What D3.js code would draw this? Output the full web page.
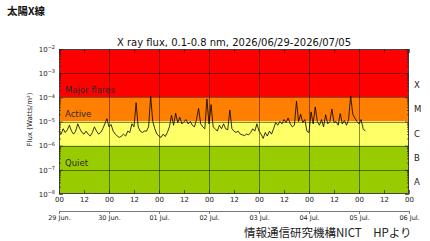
<!DOCTYPE html>
<html>
<head>
<meta charset="utf-8">
<script src="https://cdn.jsdelivr.net/npm/d3@7"></script>
<style>
  body { margin: 0; background: #fff; }
  svg { display: block; }
</style>
</head>
<body>
<div id="chart"></div>
<script>
// hourly X-ray flux (units of 1e-6 W/m2), starting 2026-06-29 00:00 UTC
const fluxE6 = [
  4, 3, 5, 3.5, 4.5, 7, 4, 3, 4, 8, 5, 3.5, 3, 4, 3, 2.5, 3.5, 6, 4, 3, 3.5, 5, 8, 13,
  6, 7.5, 4, 3, 2.5, 2.2, 2.5, 3, 2.5, 4, 3.5, 8, 6, 60, 6, 4, 3.5, 4, 4, 6, 110, 10, 5, 3,
  2.5, 2.2, 3, 2.4, 3.5, 6, 18, 7, 22, 9, 15, 8, 10, 12, 8, 10, 7, 6, 12, 35, 8, 6, 5, 86,
  8, 50, 6, 5, 4, 7, 5, 8, 5, 4.5, 30, 5, 4, 3.5, 4, 3, 2.8, 2.6, 3, 2.8, 3.5, 5, 4, 8,
  4, 3, 2, 3.5, 2.5, 4, 3, 5, 9, 7, 10, 8, 12, 9, 14, 8, 6, 7, 70, 10, 20, 9, 12, 4,
  3.5, 25, 8, 40, 10, 7, 12, 6, 19, 8, 10, 33, 9, 10, 7, 21, 8, 11, 7, 12, 115, 20, 14, 10,
  8, 12, 5, 4
];
const startDate = new Date(Date.UTC(2026, 5, 29));
const endDate = new Date(Date.UTC(2026, 6, 6));

const decades = [1e-2, 1e-3, 1e-4, 1e-5, 1e-6, 1e-7, 1e-8];
const bandTops = [1e-2, 1e-4, 1e-5, 1e-6];
const bandBottoms = [1e-4, 1e-5, 1e-6, 1e-8];
const bandColors = ['#ff0000', '#ff8000', '#ffff66', '#99cc00'];
const bandNames = ['Major flares', 'Active', 'Quiet'];
const bandNameLevels = [2e-4, 2e-5, 2e-7];
const classLetters = ['X', 'M', 'C', 'B', 'A'];
const classLower = [1e-4, 1e-5, 1e-6, 1e-7, 1e-8];

const width = 430, height = 241;
const plotL = 59, plotR = 409, plotT = 49, plotB = 194;
const font = '"DejaVu Sans", sans-serif';
const cjk = '"Noto Sans CJK JP", sans-serif';

const svg = d3.select('#chart').append('svg')
  .attr('width', width)
  .attr('height', height);

const x = d3.scaleUtc().domain([startDate, endDate]).range([plotL, plotR]);
const y = d3.scaleLog().domain([1e-8, 1e-2]).range([plotB, plotT]);

const points = fluxE6.map((v, i) => ({ t: d3.utcHour.offset(startDate, i), f: v * 1e-6 }));

// coloured bands
svg.append('g').selectAll('rect')
  .data(bandTops)
  .enter()
  .append('rect')
  .attr('x', plotL)
  .attr('width', plotR - plotL)
  .attr('y', d => y(d))
  .attr('height', (d, i) => y(bandBottoms[i]) - y(d))
  .attr('fill', (d, i) => bandColors[i]);

// grid
const grid = svg.append('g').attr('stroke', '#000').attr('stroke-opacity', 0.45).attr('stroke-width', 1);
grid.selectAll('.hgrid')
  .data(decades.slice(1, -1))
  .enter()
  .append('line')
  .attr('x1', plotL).attr('x2', plotR)
  .attr('y1', d => Math.round(y(d)) + 0.5)
  .attr('y2', d => Math.round(y(d)) + 0.5);
grid.selectAll('.vgrid')
  .data(d3.utcDay.range(d3.utcDay.offset(startDate, 1), endDate))
  .enter()
  .append('line')
  .attr('y1', plotT).attr('y2', plotB)
  .attr('x1', d => Math.round(x(d)) + 0.5)
  .attr('x2', d => Math.round(x(d)) + 0.5);

// band names
svg.append('g').selectAll('text')
  .data(bandNames)
  .enter()
  .append('text')
  .attr('x', plotL + 6)
  .attr('y', (d, i) => y(bandNameLevels[i]))
  .attr('dy', '0.35em')
  .attr('font-family', font)
  .attr('font-size', 8.5)
  .attr('fill', '#2a2a2a')
  .text(d => d);

// flux line
svg.append('path')
  .datum(points)
  .attr('fill', 'none')
  .attr('stroke', '#000')
  .attr('stroke-width', 0.8)
  .attr('stroke-linejoin', 'round')
  .attr('d', d3.line().x(d => x(d.t)).y(d => y(d.f)));

// frame
svg.append('rect')
  .attr('x', plotL + 0.5).attr('y', plotT + 0.5)
  .attr('width', plotR - plotL - 1).attr('height', plotB - plotT - 1)
  .attr('fill', 'none')
  .attr('stroke', '#444')
  .attr('stroke-width', 1);

// x axis (hours)
svg.append('g')
  .attr('transform', `translate(0,${plotB})`)
  .call(d3.axisBottom(x)
    .ticks(d3.utcHour.every(12))
    .tickFormat(d3.utcFormat('%H'))
    .tickSizeInner(-4)
    .tickSizeOuter(0)
    .tickPadding(3));
svg.append('g')
  .attr('transform', `translate(0,${plotT})`)
  .call(d3.axisTop(x)
    .ticks(d3.utcHour.every(12))
    .tickFormat('')
    .tickSizeInner(-4)
    .tickSizeOuter(0));

// y axis with minor log ticks
const minor = [];
decades.slice(1).forEach(d => { for (let k = 2; k < 10; k++) minor.push(d * k); });
const yAxis = svg.append('g')
  .attr('transform', `translate(${plotL},0)`)
  .call(d3.axisLeft(y)
    .tickValues(decades)
    .tickSizeInner(-4)
    .tickSizeOuter(0)
    .tickPadding(4));
svg.append('g')
  .attr('transform', `translate(${plotL},0)`)
  .call(d3.axisLeft(y).tickValues(minor).tickFormat('').tickSizeInner(-2).tickSizeOuter(0));
svg.append('g')
  .attr('transform', `translate(${plotR},0)`)
  .call(d3.axisRight(y).tickValues(decades).tickFormat('').tickSizeInner(-4).tickSizeOuter(0));
svg.append('g')
  .attr('transform', `translate(${plotR},0)`)
  .call(d3.axisRight(y).tickValues(minor).tickFormat('').tickSizeInner(-2).tickSizeOuter(0));

yAxis.selectAll('.tick text')
  .text(null)
  .each(function (d) {
    const t = d3.select(this);
    t.append('tspan').text('10');
    t.append('tspan')
      .attr('dy', '-0.5em')
      .attr('font-size', 5)
      .text('\u2212' + Math.round(-Math.log10(d)));
  });

svg.selectAll('.domain').remove();
svg.selectAll('.tick line').attr('stroke', '#222').attr('stroke-width', 0.7);
svg.selectAll('.tick text')
  .attr('font-family', font)
  .attr('font-size', 7)
  .attr('fill', '#222');

// day axis
const dayAxis = svg.append('g')
  .attr('transform', 'translate(0,211)')
  .call(d3.axisBottom(x)
    .ticks(d3.utcDay.every(1))
    .tickFormat(d3.utcFormat('%d %b.'))
    .tickSizeInner(3)
    .tickSizeOuter(0)
    .tickPadding(1.5));
dayAxis.select('.domain').attr('stroke', '#777');
dayAxis.selectAll('.tick line').attr('stroke', '#777');
dayAxis.selectAll('.tick text')
  .attr('font-family', font)
  .attr('font-size', 6.5)
  .attr('fill', '#222');

// class letters on the right
svg.append('g').selectAll('text')
  .data(classLetters)
  .enter()
  .append('text')
  .attr('x', plotR + 5)
  .attr('y', (d, i) => y(classLower[i] * Math.sqrt(10)))
  .attr('dy', '0.35em')
  .attr('font-family', font)
  .attr('font-size', 8.5)
  .attr('fill', '#222')
  .text(d => d);

// titles
svg.append('text')
  .attr('x', (plotL + plotR) / 2)
  .attr('y', 46)
  .attr('text-anchor', 'middle')
  .attr('font-family', font)
  .attr('font-size', 10)
  .attr('fill', '#111')
  .text('X ray flux, 0.1-0.8 nm, 2026/06/29-2026/07/05');

svg.append('text')
  .attr('transform', `translate(32,${(plotT + plotB) / 2 - 2}) rotate(-90)`)
  .attr('text-anchor', 'middle')
  .attr('font-family', font)
  .attr('font-size', 7)
  .attr('fill', '#222')
  .text('Flux (Watts/m\u00b2)');

svg.append('text')
  .attr('x', 7)
  .attr('y', 15)
  .attr('font-family', cjk)
  .attr('font-size', 10.5)
  .attr('font-weight', 'bold')
  .attr('fill', '#111')
  .text('太陽X線');

svg.append('text')
  .attr('x', 244)
  .attr('y', 237)
  .attr('font-family', cjk)
  .attr('font-size', 11.5)
  .attr('fill', '#222')
  .text('情報通信研究機構NICT\u3000HPより');
</script>
</body>
</html>
